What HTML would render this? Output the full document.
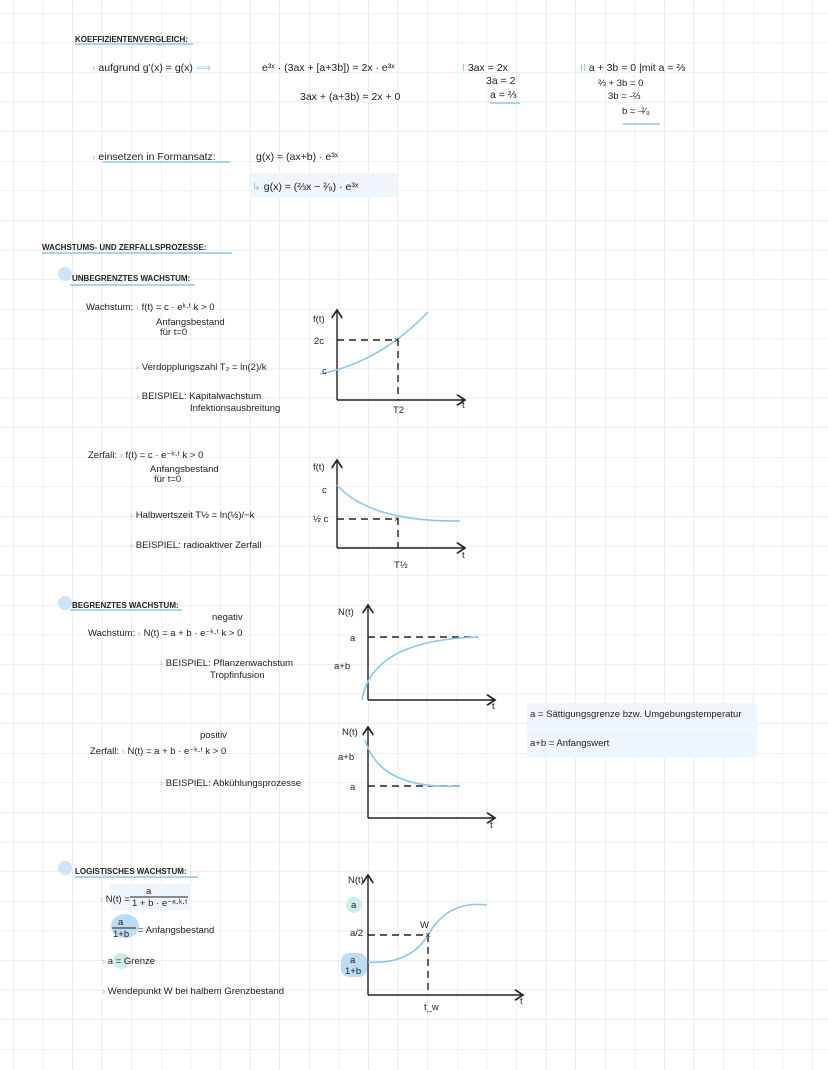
<!DOCTYPE html>
<html><head><meta charset="utf-8"><style>
html,body{margin:0;padding:0;background:#fff}
svg{display:block}
text{font-family:"Liberation Sans",sans-serif;fill:#222}
.s{font-size:9.5px}.m{font-size:10.5px}.b{font-size:8px;font-weight:bold}
</style></head><body>
<svg width="828" height="1070" viewBox="0 0 828 1070" xmlns="http://www.w3.org/2000/svg">
<defs>
<pattern id="g" x="13" y="13" width="29.6" height="29.6" patternUnits="userSpaceOnUse">
<path d="M0 0H29.6M0 0V29.6" stroke="#dcdcdc" stroke-width="1" fill="none"/>
</pattern>
<marker id="ar" markerWidth="8" markerHeight="8" refX="6" refY="4" orient="auto"><path d="M0 0L6 4L0 8" fill="none" stroke="#222" stroke-width="1.2"/></marker>
</defs>
<rect width="828" height="1070" fill="url(#g)"/>
<g stroke="#a8d4f0" stroke-width="2">
<line x1="75" y1="44" x2="193" y2="44"/><line x1="103" y1="162" x2="230" y2="162"/>
<line x1="42" y1="253" x2="232" y2="253"/><line x1="70" y1="285" x2="195" y2="285"/>
<line x1="70" y1="610" x2="182" y2="610"/><line x1="75" y1="877" x2="198" y2="877"/>
<line x1="490" y1="103" x2="520" y2="103"/><line x1="623" y1="124" x2="660" y2="124"/>
</g>
<rect x="250" y="173" width="148" height="24" fill="#eef5fb"/>
<rect x="527" y="703" width="230" height="54" fill="#eef5fb"/>
<line x1="527" y1="730" x2="757" y2="730" stroke="#fff"/>
<rect x="110" y="884" width="80" height="26" fill="#eef5fb"/>
<circle cx="65" cy="274" r="7" fill="#cfe5f7"/><circle cx="65" cy="603" r="7" fill="#cfe5f7"/><circle cx="65" cy="868" r="7" fill="#cfe5f7"/>
<ellipse cx="125" cy="926" rx="14" ry="12" fill="#bcdcf3"/><circle cx="121" cy="961" r="8" fill="#cdeee8"/>
<circle cx="354" cy="905" r="8" fill="#cdeee8"/><rect x="341" y="953" width="26" height="24" rx="8" fill="#bcdcf3"/>

<text x="75" y="42" class="b">KOEFFIZIENTENVERGLEICH:</text>
<text x="92" y="71" class="m"><tspan fill="#8cc6ec">›</tspan> aufgrund g'(x) = g(x) <tspan fill="#8cc6ec">⟹</tspan></text>
<text x="262" y="71" class="m">e³ˣ · (3ax + [a+3b]) = 2x · e³ˣ</text>
<text x="300" y="100" class="m">3ax + (a+3b) = 2x + 0</text>
<text x="462" y="71" class="m"><tspan fill="#8cc6ec">I</tspan>  3ax = 2x</text>
<text x="486" y="84" class="m">3a = 2</text><text x="490" y="98" class="m">a = ⅔</text>
<text x="580" y="71" class="m"><tspan fill="#8cc6ec">II</tspan>  a + 3b = 0   |mit a = ⅔</text>
<text x="598" y="86" class="s">⅔ + 3b = 0</text><text x="608" y="99" class="s">3b = -⅔</text><text x="622" y="114" class="s">b = -²⁄₉</text>
<text x="92" y="160" class="m"><tspan fill="#8cc6ec">›</tspan> einsetzen in Formansatz:</text>
<text x="256" y="160" class="m">g(x) = (ax+b) · e³ˣ</text>
<text x="252" y="190" class="m"><tspan fill="#8cc6ec">↳</tspan> g(x) = (⅔x − ²⁄₉) · e³ˣ</text>

<text x="42" y="250" class="b">WACHSTUMS- UND ZERFALLSPROZESSE:</text>
<text x="72" y="281" class="b">UNBEGRENZTES WACHSTUM:</text>
<text x="86" y="310" class="s">Wachstum: <tspan fill="#8cc6ec">›</tspan> f(t) = c · eᵏ·ᵗ   k &gt; 0</text>
<text x="156" y="325" class="s">Anfangsbestand</text><text x="160" y="335" class="s">für t=0</text>
<text x="136" y="370" class="s"><tspan fill="#8cc6ec">›</tspan> Verdopplungszahl T₂ = ln(2)/k</text>
<text x="136" y="399" class="s"><tspan fill="#8cc6ec">›</tspan> BEISPIEL: Kapitalwachstum</text>
<text x="190" y="411" class="s">Infektionsausbreitung</text>

<text x="88" y="458" class="s">Zerfall: <tspan fill="#8cc6ec">›</tspan> f(t) = c · e⁻ᵏ·ᵗ   k &gt; 0</text>
<text x="150" y="472" class="s">Anfangsbestand</text><text x="154" y="482" class="s">für t=0</text>
<text x="130" y="518" class="s"><tspan fill="#8cc6ec">›</tspan> Halbwertszeit  T½ = ln(½)/−k</text>
<text x="130" y="548" class="s"><tspan fill="#8cc6ec">›</tspan> BEISPIEL: radioaktiver Zerfall</text>

<text x="72" y="608" class="b">BEGRENZTES WACHSTUM:</text>
<text x="212" y="620" class="s">negativ</text>
<text x="88" y="636" class="s">Wachstum: <tspan fill="#8cc6ec">›</tspan>  N(t) = a + b · e⁻ᵏ·ᵗ   k &gt; 0</text>
<text x="160" y="666" class="s"><tspan fill="#8cc6ec">›</tspan> BEISPIEL: Pflanzenwachstum</text>
<text x="210" y="678" class="s">Tropfinfusion</text>
<text x="200" y="738" class="s">positiv</text>
<text x="90" y="754" class="s">Zerfall: <tspan fill="#8cc6ec">›</tspan>  N(t) = a + b · e⁻ᵏ·ᵗ   k &gt; 0</text>
<text x="160" y="786" class="s"><tspan fill="#8cc6ec">›</tspan> BEISPIEL: Abkühlungsprozesse</text>
<text x="530" y="717" class="s">a = Sättigungsgrenze bzw. Umgebungstemperatur</text>
<text x="530" y="746" class="s">a+b = Anfangswert</text>

<text x="75" y="874" class="b">LOGISTISCHES WACHSTUM:</text>
<text x="100" y="902" class="s"><tspan fill="#8cc6ec">›</tspan> N(t) = </text>
<text x="146" y="894" class="s">a</text><line x1="130" y1="897" x2="188" y2="897" stroke="#222"/>
<text x="132" y="906" class="s">1 + b · e⁻ᵃ·ᵏ·ᵗ</text>
<text x="118" y="925" class="s">a</text><line x1="112" y1="928" x2="136" y2="928" stroke="#222"/><text x="113" y="937" class="s">1+b</text>
<text x="138" y="933" class="s">= Anfangsbestand</text>
<text x="102" y="964" class="s"><tspan fill="#8cc6ec">›</tspan>  a = Grenze</text>
<text x="102" y="994" class="s"><tspan fill="#8cc6ec">›</tspan> Wendepunkt W bei halbem Grenzbestand</text>

<g stroke="#222" stroke-width="1.4" fill="none">
<path d="M337 400V310" marker-end="url(#ar)"/><path d="M337 400H465" marker-end="url(#ar)"/>
<path d="M337 548V460" marker-end="url(#ar)"/><path d="M337 548H465" marker-end="url(#ar)"/>
<path d="M368 700V605" marker-end="url(#ar)"/><path d="M368 700H495" marker-end="url(#ar)"/>
<path d="M368 818V727" marker-end="url(#ar)"/><path d="M368 818H495" marker-end="url(#ar)"/>
<path d="M368 995V875" marker-end="url(#ar)"/><path d="M368 995H523" marker-end="url(#ar)"/>
<g stroke-dasharray="7 5">
<path d="M337 340H398V400"/><path d="M337 519H398V548"/><path d="M368 637H478"/><path d="M368 786H460"/><path d="M368 935H428V995"/>
</g>
</g>
<g stroke="#8cc6ec" stroke-width="1.6" fill="none">
<path d="M320 374Q380 362 428 312"/>
<path d="M337 485Q370 522 460 521"/>
<path d="M362 700Q372 640 478 637"/>
<path d="M365 740Q380 790 460 786"/>
<path d="M368 962Q410 965 428 935Q448 900 487 905"/>
</g>
<g class="s">
<text x="313" y="322" class="s">f(t)</text><text x="314" y="344" class="s">2c</text><text x="322" y="374" class="s">c</text><text x="393" y="413" class="s">T2</text><text x="462" y="408" class="s">t</text><text x="394" y="343" class="s">×</text>
<text x="313" y="470" class="s">f(t)</text><text x="322" y="493" class="s">c</text><text x="313" y="522" class="s">½ c</text><text x="394" y="522" class="s">×</text><text x="394" y="568" class="s">T½</text><text x="462" y="558" class="s">t</text>
<text x="338" y="615" class="s">N(t)</text><text x="350" y="641" class="s">a</text><text x="334" y="669" class="s">a+b</text><text x="492" y="709" class="s">t</text>
<text x="342" y="735" class="s">N(t)</text><text x="338" y="760" class="s">a+b</text><text x="350" y="790" class="s">a</text><text x="490" y="828" class="s">t</text>
<text x="348" y="883" class="s">N(t)</text><text x="351" y="908" class="s">a</text><text x="350" y="936" class="s">a/2</text><text x="350" y="963" class="s">a</text><text x="345" y="974" class="s">1+b</text><text x="425" y="938" class="s">×</text><text x="420" y="928" class="s">W</text><text x="424" y="1010" class="s">t_w</text><text x="520" y="1004" class="s">t</text>
</g>
</svg>
</body></html>
